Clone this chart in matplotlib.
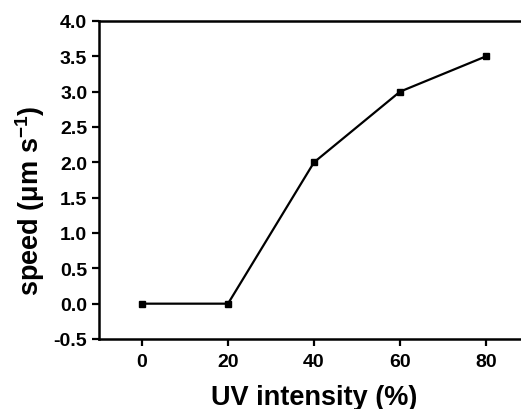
import matplotlib
matplotlib.use("Agg")
import matplotlib.pyplot as plt

uv_intensity = [0, 20, 40, 60, 80]
speed = [0.0, 0.0, 2.0, 3.0, 3.5]
x_ticks = [0, 20, 40, 60, 80]
y_ticks = [-0.5, 0.0, 0.5, 1.0, 1.5, 2.0, 2.5, 3.0, 3.5, 4.0]

plt.rcParams['font.family'] = ['Liberation Sans', 'DejaVu Sans']
plt.rcParams['font.weight'] = 'bold'
plt.rcParams['mathtext.fontset'] = 'custom'
plt.rcParams['mathtext.rm'] = 'Liberation Sans:bold'
plt.rcParams['mathtext.bf'] = 'Liberation Sans:bold'
plt.rcParams['mathtext.it'] = 'Liberation Sans:bold'

fig = plt.figure(figsize=(5.21, 4.10), dpi=100)
ax = fig.add_axes([99/521, 70/410, 430/521, 318/410])
ax.plot(uv_intensity, speed, color='black', lw=1.6, marker='s', ms=5,
        mfc='black', mec='black', clip_on=False)
ax.set_xlim(-10, 90)
ax.set_ylim(-0.5, 4.0)
ax.set_xticks(x_ticks)
ax.set_yticks(y_ticks)
ax.set_yticklabels([f"{v:.1f}" for v in y_ticks])
for s in ['left', 'bottom', 'top']:
    ax.spines[s].set_linewidth(1.8)
ax.spines['right'].set_visible(False)
ax.tick_params(direction='out', length=5, width=1.6, labelsize=14)
ax.tick_params(axis='x', pad=5)
for lbl in ax.get_xticklabels() + ax.get_yticklabels():
    lbl.set_fontweight('bold')
ax.set_xlabel('UV intensity (%)', fontsize=19.5, fontweight='bold', labelpad=10)
ax.set_ylabel('speed (μm s$^{-1}$)', fontsize=19.5, fontweight='bold', labelpad=6)
ax.yaxis.set_label_coords(-0.120, 0.437)
fig.savefig('out.png', dpi=100)
